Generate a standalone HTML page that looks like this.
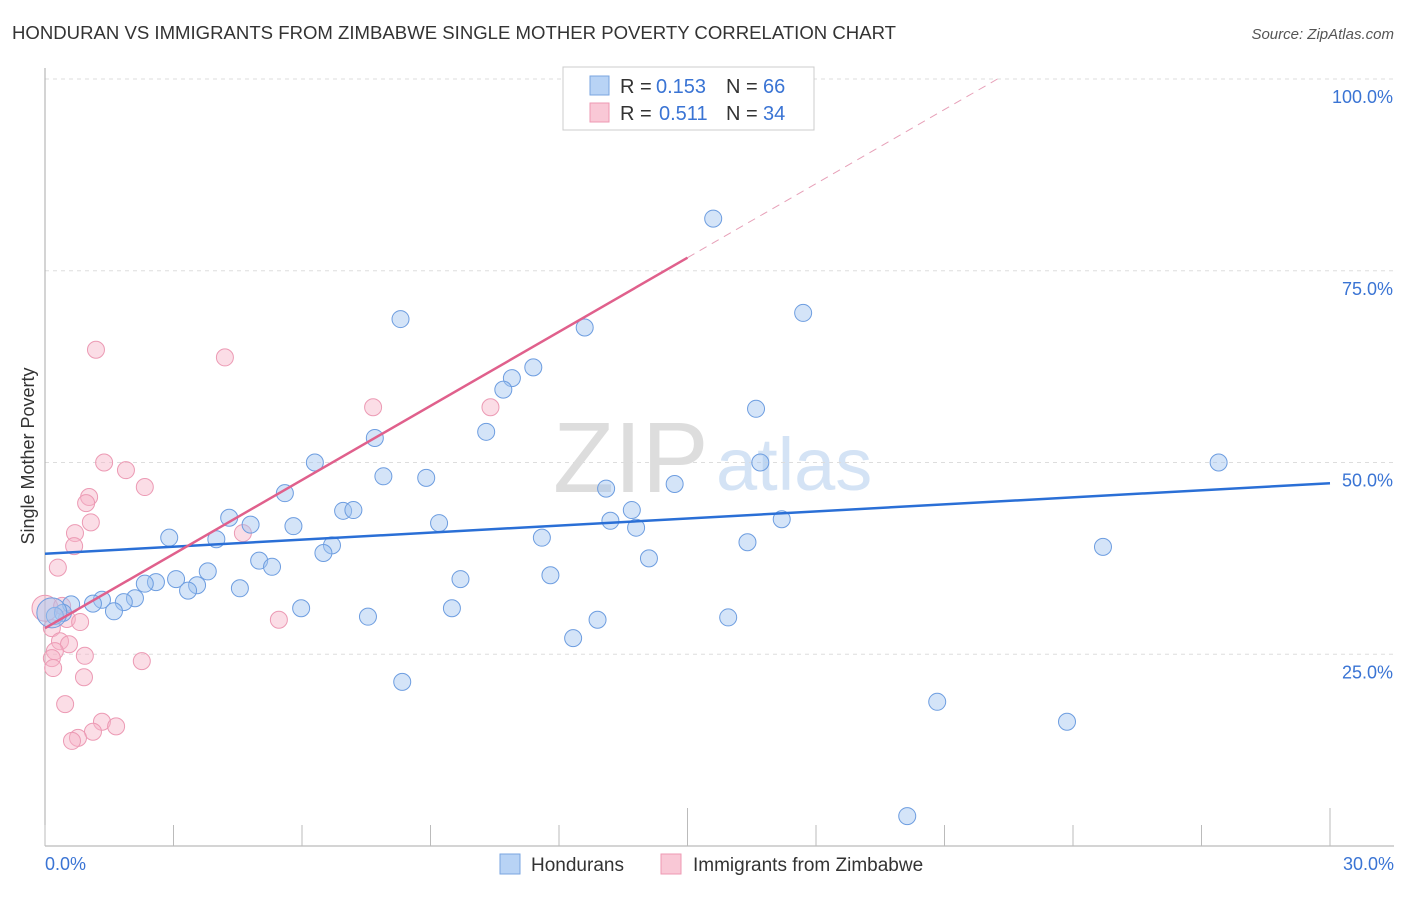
<!DOCTYPE html>
<html><head><meta charset="utf-8"><style>
body{margin:0;background:#fff;font-family:"Liberation Sans",sans-serif}
svg text{font-family:"Liberation Sans",sans-serif}
</style></head><body>
<svg id="c" width="1406" height="892">
<text x="12" y="39" font-size="18" fill="#333" textLength="884" lengthAdjust="spacingAndGlyphs">HONDURAN VS IMMIGRANTS FROM ZIMBABWE SINGLE MOTHER POVERTY CORRELATION CHART</text>
<text x="1394" y="39" font-size="15" fill="#555" font-style="italic" text-anchor="end">Source: ZipAtlas.com</text>
<text x="34" y="456" font-size="18" fill="#333" text-anchor="middle" transform="rotate(-90 34 456)">Single Mother Poverty</text>
<text x="553" y="492" font-size="100" fill="#ddd" font-family="Liberation Serif">ZIP</text>
<text x="716" y="490" font-size="74" fill="#d4e3f5">atlas</text>
<g id="grid"></g><g id="pts"></g><g id="lines"></g>
<g>
<rect x="563" y="67" width="251" height="63" fill="#fff" stroke="#ccc"/>
<rect x="590" y="76" width="19" height="19" fill="#b8d3f5" stroke="#7aa6e0"/>
<rect x="590" y="103" width="19" height="19" fill="#f9c8d6" stroke="#ee99b3"/>
<text x="620" y="93" font-size="20" fill="#333">R =</text>
<text x="656" y="93" font-size="20" fill="#3a74d4">0.153</text>
<text x="726" y="93" font-size="20" fill="#333">N =</text>
<text x="763" y="93" font-size="20" fill="#3a74d4">66</text>
<text x="620" y="120" font-size="20" fill="#333">R =</text>
<text x="659" y="120" font-size="20" fill="#3a74d4">0.511</text>
<text x="726" y="120" font-size="20" fill="#333">N =</text>
<text x="763" y="120" font-size="20" fill="#3a74d4">34</text>
</g>
<g>
<rect x="500" y="854" width="20" height="20" fill="#b8d3f5" stroke="#7aa6e0"/>
<text x="531" y="871" font-size="19" fill="#333">Hondurans</text>
<rect x="661" y="854" width="20" height="20" fill="#f9c8d6" stroke="#ee99b3"/>
<text x="693" y="871" font-size="19" fill="#333">Immigrants from Zimbabwe</text>
</g>
</svg>
<script>
const yTicks=[25,50,75,100];
const yTickLabels=["25.0%","50.0%","75.0%","100.0%"];
const xTicks=[0,3,6,9,12,15,18,21,24,27,30];
const xTickLabels=["0.0%","30.0%"];
const blueX=[15.6,17.7,8.3,12.6,11.4,10.9,10.7,16.6,7.7,10.3,27.4,16.7,6.3,7.9,8.9,14.7,13.1,5.6,13.7,6.96,7.2,4.3,4.8,9.2,13.2,5.8,13.8,17.2,2.9,4.0,11.6,6.7,6.5,16.4,24.7,14.1,5.0,5.3,3.8,3.06,11.8,9.7,2.59,2.33,4.55,3.55,3.34,2.1,1.84,1.33,1.12,0.61,1.61,5.98,9.5,7.54,12.9,15.95,0.42,0.23,0.16,12.33,8.34,20.83,23.86,20.13];
const blueY=[81.8,69.5,68.7,67.6,62.4,61.0,59.5,57.0,53.2,54.0,50.0,50.0,50.0,48.2,48.0,47.2,46.6,46.0,43.8,43.7,43.8,42.8,41.9,42.1,42.4,41.7,41.5,42.6,40.2,40.0,40.2,39.2,38.2,39.6,39.0,37.5,37.2,36.4,35.8,34.8,35.3,34.8,34.4,34.2,33.6,34.0,33.3,32.3,31.8,32.1,31.6,31.5,30.6,31.0,31.0,29.9,29.5,29.8,30.4,30.0,30.4,27.1,21.4,18.8,16.2,3.9];
const pinkX=[1.19,4.2,7.66,10.4,1.38,1.89,2.33,1.03,0.96,1.07,0.7,0.68,4.62,0.3,0.0,0.4,0.51,0.82,0.16,0.35,0.56,0.23,0.93,0.16,0.19,2.26,5.46,0.91,0.47,1.33,1.66,1.12,0.77,0.63];
const pinkY=[64.7,63.7,57.2,57.2,50.0,49.0,46.8,45.5,44.7,42.2,40.8,39.1,40.8,36.3,31.0,31.3,29.6,29.2,28.4,26.7,26.3,25.4,24.8,24.5,23.2,24.1,29.5,22.0,18.5,16.2,15.6,14.9,14.1,13.7];
const blueLine=[38.1,47.3];
const pinkLine=[28.4,3.22];
const X=v=>45+v/30*1285, Y=v=>846-v/100*767;
const NS="http://www.w3.org/2000/svg";
function mk(t,a,p){const e=document.createElementNS(NS,t);for(const k in a)e.setAttribute(k,a[k]);p.appendChild(e);return e;}
const g=document.getElementById('grid');
yTicks.forEach((v,i)=>{
 const l=mk('line',{x1:45,x2:1394,y1:Y(v),y2:Y(v),stroke:'#ddd','stroke-dasharray':'4,4'},g);
 
 
 const t=mk('text',{x:1393,y:Y(v)+24,'font-size':18,fill:'#3a74d4','text-anchor':'end'},g);t.textContent=yTickLabels[i];
 
 
});
mk('line',{x1:45,x2:45,y1:68,y2:846,stroke:'#aaa'},g);
mk('line',{x1:45,x2:1394,y1:846,y2:846,stroke:'#aaa'},g);
xTicks.forEach((v,i)=>{
 const big=(i==5||i==10);
 const l=mk('line',{x1:X(v),x2:X(v),y1:big?808:825,y2:846,stroke:'#bbb'},g);
 
 
});
[[0,'start'],[30,'end']].forEach((d,i)=>{
 const t=mk('text',{x:i?1394:45,y:870,'font-size':18,fill:'#3a74d4','text-anchor':d[1]},g);t.textContent=xTickLabels[i];
 
 
});
const p=document.getElementById('pts');
pinkX.forEach((x,i)=>{
 const c=mk('circle',{cx:X(x),cy:Y(pinkY[i]),r:i==14?13:8.5,fill:'rgba(246,180,200,0.45)',stroke:'#ec9ab4','stroke-width':1},p);
 
 
});
blueX.forEach((x,i)=>{
 const c=mk('circle',{cx:X(x),cy:Y(blueY[i]),r:(i==60?15:8.5),fill:'rgba(160,195,240,0.45)',stroke:'#6d9de0','stroke-width':1},p);
 
 
});
const L=document.getElementById('lines');
const bl=mk('line',{x1:X(0),y1:Y(blueLine[0]),x2:X(30),y2:Y(blueLine[1]),stroke:'#2a6fd6','stroke-width':2.5},L);


const xEnd=15, xTop=(100-pinkLine[0])/pinkLine[1];
const pl=mk('line',{x1:X(0),y1:Y(pinkLine[0]),x2:X(xEnd),y2:Y(pinkLine[0]+pinkLine[1]*xEnd),stroke:'#e0608c','stroke-width':2.5},L);


const pd=mk('line',{x1:X(xEnd),y1:Y(pinkLine[0]+pinkLine[1]*xEnd),x2:X(xTop),y2:Y(100),stroke:'#e7a0b8','stroke-width':1,'stroke-dasharray':'8,6'},L);


</script>
</body></html>
